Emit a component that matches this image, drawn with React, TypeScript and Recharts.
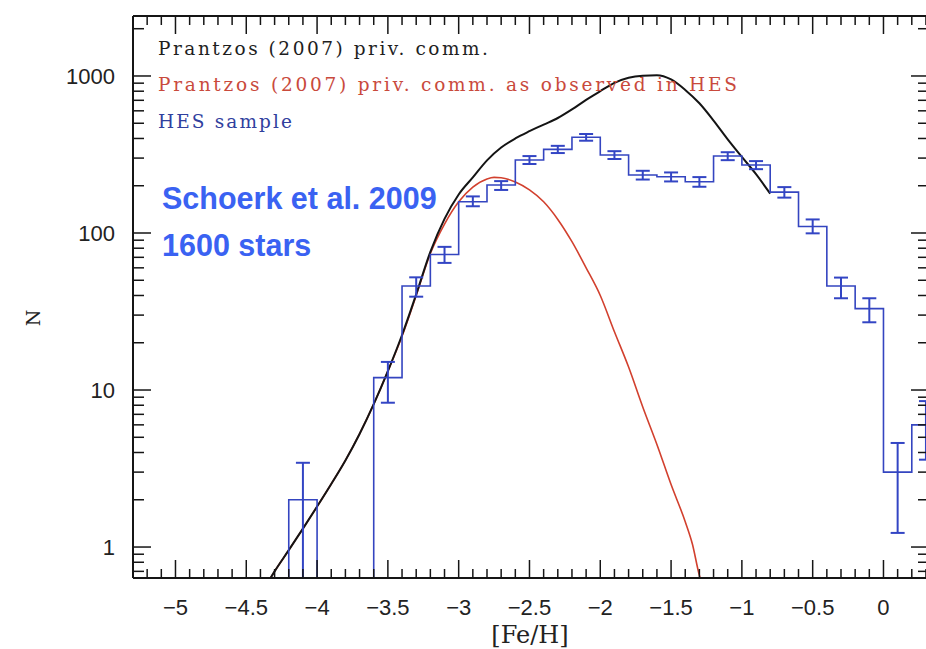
import React from "react";
import { ComposedChart, Line, ErrorBar, XAxis, YAxis } from "recharts";

// axis ticks
const X_MAJOR = [-5, -4.5, -4, -3.5, -3, -2.5, -2, -1.5, -1, -0.5, 0];
const X_LABELS = ["\u22125", "\u22124.5", "\u22124", "\u22123.5", "\u22123", "\u22122.5", "\u22122", "\u22121.5", "\u22121", "\u22120.5", "0"];
const Y_MAJOR = [1, 10, 100, 1000];
const Y_LABELS = ["1", "10", "100", "1000"];

const X_DOMAIN: [number, number] = [-5.3, 0.3215];
const Y_DOMAIN: [number, number] = [0.635, 2410];

// HES sample, 0.2 dex bins (edges + counts)
const HES_EDGES = [-4.4, -4.2, -4.0, -3.8, -3.6, -3.4, -3.2, -3.0, -2.8, -2.6, -2.4, -2.2, -2.0, -1.8, -1.6, -1.4, -1.2, -1.0, -0.8, -0.6, -0.4, -0.2, 0.0, 0.2, 0.4];
const HES_COUNTS = [0, 2, 0, 0, 12, 46, 73, 158, 202, 292, 341, 407, 314, 234, 228, 212, 309, 271, 182, 110, 46, 33, 3, 6];
const HES_ERR_LO = [0, 1.365, 0, 0, 3.7, 6.7, 8.5, 10, 14, 17, 18, 20, 18, 15, 15, 15, 18, 16, 14, 10.5, 7.6, 6, 1.77, 2.4];
const HES_ERR_HI = [0, 1.44, 0, 0, 3.1, 6.2, 8.6, 13, 12, 17, 18, 20, 18, 15, 15, 15, 18, 16, 14, 12, 6, 5.4, 1.6, 2.5];
const FLOOR = 0.3; // empty bins drawn below the axis

// Prantzos (2007) model
const BLACK_FEH = [-4.35, -4.3, -4.2, -4.1, -4.0, -3.9, -3.8, -3.7, -3.6, -3.5, -3.4, -3.3, -3.2, -3.1, -3.0, -2.9, -2.8, -2.7, -2.6, -2.5, -2.4, -2.3, -2.2, -2.1, -2.0, -1.9, -1.8, -1.7, -1.6, -1.5, -1.4, -1.3, -1.2, -1.1, -1.0, -0.9, -0.8];
const BLACK_N = [0.59, 0.7, 0.955, 1.31, 1.81, 2.52, 3.56, 5.25, 8.13, 13.2, 22.4, 40.7, 75.9, 123, 176, 226, 290, 350, 400, 445, 490, 540, 612, 705, 800, 905, 975, 1005, 1012, 950, 815, 670, 520, 395, 305, 237, 178];

// Prantzos (2007) model as observed in HES
const RED_FEH = [-4.35, -4.3, -4.2, -4.1, -4.0, -3.9, -3.8, -3.7, -3.6, -3.5, -3.4, -3.3, -3.2, -3.1, -3.0, -2.9, -2.8, -2.75, -2.7, -2.6, -2.5, -2.4, -2.3, -2.2, -2.1, -2.0, -1.9, -1.8, -1.7, -1.6, -1.5, -1.4, -1.35, -1.3, -1.28];
const RED_N = [0.59, 0.7, 0.955, 1.31, 1.81, 2.52, 3.56, 5.25, 8.13, 13.2, 22, 40, 74, 114, 158, 196, 221, 226, 225, 211, 188, 158, 122, 88, 60, 40, 23.5, 14, 7.8, 4.5, 2.5, 1.45, 1.05, 0.66, 0.58];

const blackData = BLACK_FEH.map((feh, i) => ({ feh, n: BLACK_N[i] }));
const redData = RED_FEH.map((feh, i) => ({ feh, n: RED_N[i] }));
const stepData = HES_EDGES.map((feh, i) => {
  const c = i < HES_COUNTS.length ? HES_COUNTS[i] : HES_COUNTS[HES_COUNTS.length - 1];
  return { feh, n: c > 0 ? c : FLOOR };
});
const errData = HES_COUNTS.map((c, i) => ({
  feh: Math.round((HES_EDGES[i] + 0.1) * 100) / 100,
  n: c,
  err: [HES_ERR_LO[i], HES_ERR_HI[i]],
})).filter((d) => d.n > 0);

const X_TICKS: number[] = [];
for (let i = -52; i <= 3; i++) X_TICKS.push(i / 10);
const Y_TICKS: number[] = [];
[0.1, 1, 10, 100, 1000].forEach((d) => {
  for (let k = 1; k <= 9; k++) {
    const v = Math.round(k * d * 1000) / 1000;
    if (v > Y_DOMAIN[0] && v < Y_DOMAIN[1]) Y_TICKS.push(v);
  }
});

const AX = "#151515";
const TICK_FONT = "'Liberation Sans', Arial, sans-serif";
const SERIF = "'DejaVu Serif', serif";

const xMajorIdx = (v: number) => X_MAJOR.findIndex((m) => Math.abs(m - v) < 1e-6);
const yMajorIdx = (v: number) => Y_MAJOR.findIndex((m) => Math.abs(m - v) < 1e-6);

function BottomTick({ x, y, payload }: any) {
  const i = xMajorIdx(payload.value);
  return (
    <g>
      <line x1={x} y1={y} x2={x} y2={y - (i >= 0 ? 18 : 9)} stroke={AX} strokeWidth={1.5} />
      {i >= 0 && (
        <text x={x} y={y + 37} textAnchor="middle" fontSize={22} fontFamily={TICK_FONT} fill="#222">
          {X_LABELS[i]}
        </text>
      )}
    </g>
  );
}

function TopTick({ x, y, payload }: any) {
  const i = xMajorIdx(payload.value);
  return <line x1={x} y1={y} x2={x} y2={y + (i >= 0 ? 18 : 9)} stroke={AX} strokeWidth={1.5} />;
}

function LeftTick({ x, y, payload }: any) {
  const i = yMajorIdx(payload.value);
  return (
    <g>
      <line x1={x} y1={y} x2={x + (i >= 0 ? 18 : 11)} y2={y} stroke={AX} strokeWidth={1.5} />
      {i >= 0 && (
        <text x={x - 18} y={y + 8} textAnchor="end" fontSize={22} fontFamily={TICK_FONT} fill="#222">
          {Y_LABELS[i]}
        </text>
      )}
    </g>
  );
}

function RightTick({ x, y, payload }: any) {
  const i = yMajorIdx(payload.value);
  return <line x1={x} y1={y} x2={x - (i >= 0 ? 18 : 11)} y2={y} stroke={AX} strokeWidth={1.5} />;
}

export default function App() {
  return (
    <div style={{ position: "absolute", left: 0, top: 0, width: 926, height: 649, overflow: "hidden", background: "#fff" }}>
      <ComposedChart width={930} height={649} margin={{ top: 0, right: 0, bottom: 0, left: 0 }}>
        <XAxis
          xAxisId="b" orientation="bottom" type="number" dataKey="feh" domain={X_DOMAIN} allowDataOverflow
          ticks={X_TICKS} interval={0} height={71} tickSize={0} tickMargin={0} tickLine={false}
          tick={<BottomTick />} axisLine={{ stroke: AX, strokeWidth: 2 }}
        />
        <XAxis
          xAxisId="t" orientation="top" type="number" dataKey="feh" domain={X_DOMAIN} allowDataOverflow
          ticks={X_TICKS} interval={0} height={16} tickSize={0} tickMargin={0} tickLine={false}
          tick={<TopTick />} axisLine={{ stroke: AX, strokeWidth: 2 }}
        />
        <YAxis
          yAxisId="l" orientation="left" type="number" dataKey="n" scale="log" domain={Y_DOMAIN} allowDataOverflow
          ticks={Y_TICKS} interval={0} width={133} tickSize={0} tickMargin={0} tickLine={false}
          tick={<LeftTick />} axisLine={{ stroke: AX, strokeWidth: 2 }}
        />
        <YAxis
          yAxisId="r" orientation="right" type="number" dataKey="n" scale="log" domain={Y_DOMAIN} allowDataOverflow
          ticks={Y_TICKS} interval={0} width={1} tickSize={0} tickMargin={0} tickLine={false}
          tick={<RightTick />} axisLine={false}
        />
        <Line
          xAxisId="b" yAxisId="l" data={redData} dataKey="n" type="monotone"
          stroke="#d2402e" strokeWidth={1.6} dot={false} isAnimationActive={false}
        />
        <Line
          xAxisId="b" yAxisId="l" data={blackData} dataKey="n" type="monotone"
          stroke="#141414" strokeWidth={2} dot={false} isAnimationActive={false}
        />
        <Line
          xAxisId="b" yAxisId="l" data={stepData} dataKey="n" type="stepAfter"
          stroke="#3445c0" strokeWidth={1.6} dot={false} isAnimationActive={false}
        />
        <Line
          xAxisId="b" yAxisId="l" data={errData} dataKey="n" stroke="none"
          dot={false} activeDot={false} isAnimationActive={false}
        >
          <ErrorBar dataKey="err" direction="y" width={7} stroke="#3345c4" strokeWidth={2} isAnimationActive={false} />
        </Line>
      </ComposedChart>
      <svg width={926} height={649} style={{ position: "absolute", left: 0, top: 0, pointerEvents: "none" }}>
        <text x={158} y={55} fontSize={18.5} fontFamily={SERIF} fill="#1e1e1e" textLength={330} lengthAdjust="spacing">
          Prantzos (2007) priv. comm.
        </text>
        <text x={158} y={91} fontSize={18.5} fontFamily={SERIF} fill="#c94a3c" textLength={579} lengthAdjust="spacing">
          Prantzos (2007) priv. comm. as observed in HES
        </text>
        <text x={158} y={128} fontSize={18.5} fontFamily={SERIF} fill="#30409e" textLength={134} lengthAdjust="spacing">
          HES sample
        </text>
        <text x={162} y={209} fontSize={30.5} fontWeight="bold" fontFamily={TICK_FONT} fill="#3a62f2">
          Schoerk et al. 2009
        </text>
        <text x={162} y={256} fontSize={30.5} fontWeight="bold" fontFamily={TICK_FONT} fill="#3a62f2">
          1600 stars
        </text>
        <text x={530} y={643} textAnchor="middle" fontSize={24} fontFamily={SERIF} fill="#222">
          [Fe/H]
        </text>
        <text x={40} y={318} textAnchor="middle" fontSize={19} fontFamily={SERIF} fill="#222" transform="rotate(-90 40 318)">
          N
        </text>
      </svg>
    </div>
  );
}
